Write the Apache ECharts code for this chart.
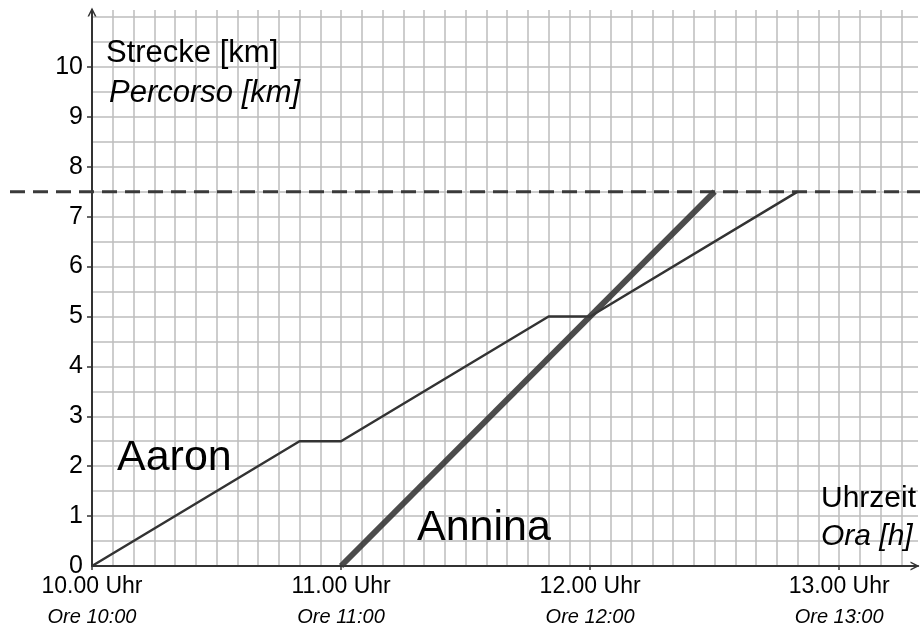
<!DOCTYPE html>
<html>
<head>
<meta charset="utf-8">
<title>Strecke / Percorso</title>
<script src="https://cdn.jsdelivr.net/npm/echarts@6/dist/echarts.min.js"></script>
<style>
  html, body { margin: 0; padding: 0; background: #fff; }
  #chart { width: 920px; height: 630px; }
</style>
</head>
<body>
<div id="chart"></div>
<script>
// time in minutes after 10:00, distance in km
var hourTicks = [0, 60, 120, 180]
var hourLabelsDe = ['10.00 Uhr', '11.00 Uhr', '12.00 Uhr', '13.00 Uhr']
var hourLabelsIt = ['Ore 10:00', 'Ore 11:00', 'Ore 12:00', 'Ore 13:00']
var kmTicks = [0, 1, 2, 3, 4, 5, 6, 7, 8, 9, 10]

var aaronMin = [0, 50, 60, 110, 120, 170]
var aaronKm = [0, 2.5, 2.5, 5, 5, 7.5]
var anninaMin = [60, 150]
var anninaKm = [0, 7.5]
var goalKm = 7.5

var xMax = 199
var yMax = 11.14
var xStep = 5
var yStep = 0.5
var font = '"Liberation Sans", Arial, sans-serif'
var gridColor = '#bdbdbd'
var axisColor = '#333'
// open chevron for the axis ends
var chevron = 'path://M0,10 L5,0 L10,10 L8.2,10 L5,3.6 L1.8,10 Z'

function pairs(xs, ys) {
  return xs.map(function (x, i) { return [x, ys[i]] })
}

// one colour per grid line, the line at the axis max (edge of the plot) is hidden
function gridColors(max, step) {
  var n = Math.floor(max / step + 1e-9) + 1
  var cols = []
  for (var i = 0; i < n; i++) cols.push(gridColor)
  if (Math.abs(max / step - Math.round(max / step)) > 1e-9) cols.push('rgba(0,0,0,0)')
  return cols
}

var chart = echarts.init(document.getElementById('chart'))

var option = {
  animation: false,
  backgroundColor: '#fff',
  textStyle: { fontFamily: font },
  grid: [
    { left: 92, right: 2, top: 10, bottom: 64 },
    { left: 10, right: 0, top: 10, bottom: 64 }   // for the dashed goal line
  ],
  xAxis: [
    {
      // fine grid, every 5 minutes
      type: 'value', gridIndex: 0, min: 0, max: xMax, interval: xStep,
      axisLine: { show: false }, axisTick: { show: false }, axisLabel: { show: false },
      splitLine: { show: true, lineStyle: { color: gridColors(xMax, xStep), width: 1.5 } }
    },
    {
      type: 'value', gridIndex: 0, min: 0, max: xMax, interval: 60, position: 'bottom',
      axisLine: {
        show: true, onZero: false,
        symbol: ['none', chevron], symbolSize: [16, 9], symbolOffset: [0, -3],
        lineStyle: { color: axisColor, width: 2 }
      },
      axisTick: { show: true, customValues: hourTicks, length: 4, lineStyle: { color: axisColor, width: 1.5 } },
      splitLine: { show: false },
      axisLabel: {
        customValues: hourTicks,
        margin: 8,
        formatter: function (v) {
          var i = hourTicks.indexOf(v)
          if (i < 0) return ''
          return '{a|' + hourLabelsDe[i] + '}\n{b|' + hourLabelsIt[i] + '}'
        },
        rich: {
          a: { fontSize: 23, lineHeight: 26, color: '#000', fontFamily: font },
          b: { fontSize: 20, lineHeight: 34, color: '#000', fontStyle: 'italic', fontFamily: font }
        }
      }
    },
    {
      type: 'value', gridIndex: 1, min: 0, max: 1, show: false
    }
  ],
  yAxis: [
    {
      // fine grid, every 0.5 km
      type: 'value', gridIndex: 0, min: 0, max: yMax, interval: yStep,
      axisLine: { show: false }, axisTick: { show: false }, axisLabel: { show: false },
      splitLine: { show: true, lineStyle: { color: gridColors(yMax, yStep), width: 1.5 } }
    },
    {
      type: 'value', gridIndex: 0, min: 0, max: yMax, interval: 1, position: 'left',
      axisLine: {
        show: true, onZero: false,
        symbol: ['none', chevron], symbolSize: [16, 9], symbolOffset: [0, -2],
        lineStyle: { color: axisColor, width: 2 }
      },
      axisTick: { show: true, customValues: kmTicks.slice(1), length: 5, lineStyle: { color: axisColor, width: 1.5 } },
      splitLine: { show: false },
      axisLabel: {
        customValues: kmTicks,
        margin: 9,
        fontSize: 25,
        color: '#000',
        fontFamily: font
      }
    },
    {
      type: 'value', gridIndex: 1, min: 0, max: yMax, show: false
    }
  ],
  series: [
    {
      name: 'Goal',
      type: 'line',
      xAxisIndex: 2, yAxisIndex: 2,
      data: [[0, goalKm], [1, goalKm]],
      showSymbol: false,
      silent: true,
      z: 3,
      lineStyle: { color: '#3a3a3a', width: 3, type: [15, 8] }
    },
    {
      name: 'Aaron',
      type: 'line',
      xAxisIndex: 0, yAxisIndex: 0,
      data: pairs(aaronMin, aaronKm),
      showSymbol: false,
      z: 4,
      lineStyle: { color: '#333', width: 2.5 }
    },
    {
      name: 'Annina',
      type: 'line',
      xAxisIndex: 0, yAxisIndex: 0,
      data: pairs(anninaMin, anninaKm),
      showSymbol: false,
      z: 5,
      lineStyle: { color: '#393939', width: 6, opacity: 0.9 }
    }
  ],
  graphic: [
    { type: 'text', z: 50, x: 106, y: 53, style: { text: 'Strecke [km]', font: '31px ' + font, fill: '#000', verticalAlign: 'middle' } },
    { type: 'text', z: 50, x: 109, y: 93, style: { text: 'Percorso [km]', font: 'italic 31px ' + font, fill: '#000', verticalAlign: 'middle' } },
    { type: 'text', z: 50, x: 117, y: 458, style: { text: 'Aaron', font: '43px ' + font, fill: '#000', verticalAlign: 'middle' } },
    { type: 'text', z: 50, x: 417, y: 528, style: { text: 'Annina', font: '43px ' + font, fill: '#000', verticalAlign: 'middle' } },
    { type: 'text', z: 50, x: 821, y: 499, style: { text: 'Uhrzeit', font: '30px ' + font, fill: '#000', verticalAlign: 'middle' } },
    { type: 'text', z: 50, x: 821, y: 537, style: { text: 'Ora [h]', font: 'italic 30px ' + font, fill: '#000', verticalAlign: 'middle' } }
  ]
}

chart.setOption(option)
</script>
</body>
</html>
